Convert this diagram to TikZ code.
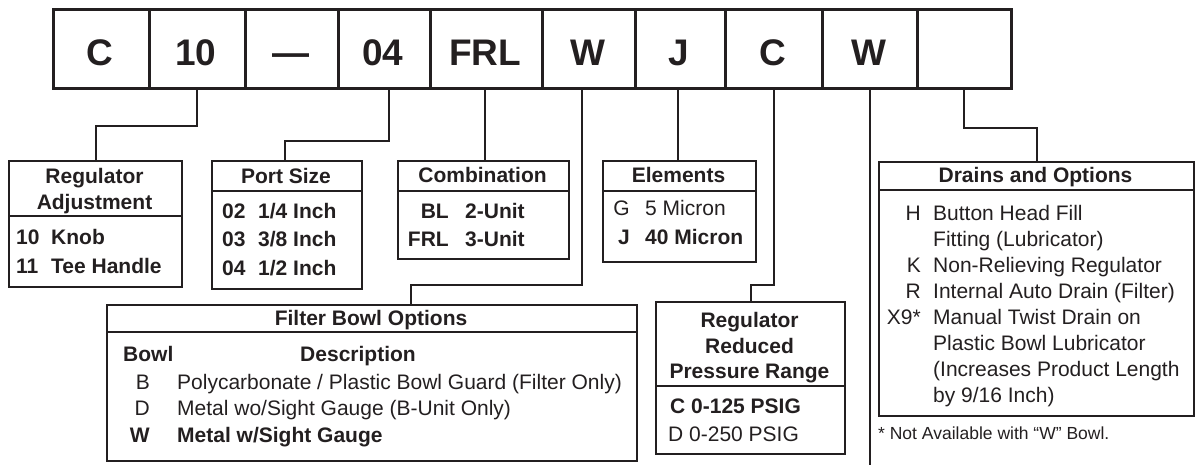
\documentclass[tikz,border=0pt]{standalone}
\usepackage{fontspec}
\setmainfont{Liberation Sans}
\definecolor{ink}{RGB}{35,31,32}
\begin{document}
\begin{tikzpicture}[x=1pt,y=-1pt,
  topbox/.style={draw=ink, line width=2.6pt, anchor=north west, inner sep=0pt, minimum height=79pt},
  box/.style={draw=ink, line width=2.3pt, anchor=north west, inner sep=0pt},
  big/.style={font=\fontsize{37}{40}\selectfont\bfseries, text=ink, anchor=base, inner sep=0pt},
  hd/.style={font=\fontsize{21}{24}\selectfont\bfseries, text=ink, anchor=base, inner sep=0pt},
  bl/.style={hd, anchor=base west},
  br/.style={hd, anchor=base east},
  tl/.style={font=\fontsize{21}{24}\selectfont, text=ink, anchor=base west, inner sep=0pt},
  tr/.style={tl, anchor=base east},
  fn/.style={font=\fontsize{17.5}{20}\selectfont, text=ink, anchor=base west, inner sep=0pt},
  conn/.style={draw=ink, line width=2pt},
  div/.style={draw=ink, line width=2.3pt}]
\useasboundingbox (0,0) rectangle (1200,465);

% ---------- top code boxes ----------
\node[topbox, minimum width=96pt]  (tC)   at (52,8)  {};
\node[topbox, minimum width=96pt]  (t10)  at (148,8) {};
\node[topbox, minimum width=93pt]  (tD)   at (244,8) {};
\node[topbox, minimum width=92pt]  (t04)  at (337,8) {};
\node[topbox, minimum width=112pt] (tFRL) at (429,8) {};
\node[topbox, minimum width=93pt]  (tW)   at (541,8) {};
\node[topbox, minimum width=90pt]  (tJ)   at (634,8) {};
\node[topbox, minimum width=97pt]  (tC2)  at (724,8) {};
\node[topbox, minimum width=95pt]  (tW2)  at (821,8) {};
\node[topbox, minimum width=94pt]  (tE)   at (916,8) {};

\node[big] (lC)   at (100,66)   {C};
\node[big] (l10)  at (196,66)   {10};
\node[big] (lD)   at (290.5,66) {—};
\node[big] (l04)  at (383,66)   {04};
\node[big] (lFRL) at (485,66)   {FRL};
\node[big] (lW)   at (587.5,66) {W};
\node[big] (lJ)   at (679,66)   {J};
\node[big] (lC2)  at (772.5,66) {C};
\node[big] (lW2)  at (868.5,66) {W};

% ---------- Regulator Adjustment ----------
\node[box, minimum width=173pt, minimum height=126pt] (ra) at (8,160) {};
\draw[div] (8,216) -- (181,216);
\node[hd] (raT1) at (94.5,183.5) {Regulator};
\node[hd] (raT2) at (94.5,209.5) {Adjustment};
\node[bl] (ra1a) at (16,244.5) {10};
\node[bl] (ra1b) at (51,244.5) {Knob};
\node[bl] (ra2a) at (16,273.5) {11};
\node[bl] (ra2b) at (51,273.5) {Tee Handle};

% ---------- Port Size ----------
\node[box, minimum width=150pt, minimum height=128pt] (ps) at (211,160) {};
\draw[div] (211,191) -- (361,191);
\node[hd] (psT) at (286,183.5) {Port Size};
\node[bl] (ps1a) at (222,218.5) {02};
\node[bl] (ps1b) at (258,218.5) {1/4 Inch};
\node[bl] (ps2a) at (222,246.5) {03};
\node[bl] (ps2b) at (258,246.5) {3/8 Inch};
\node[bl] (ps3a) at (222,275.5) {04};
\node[bl] (ps3b) at (258,275.5) {1/2 Inch};

% ---------- Combination ----------
\node[box, minimum width=171pt, minimum height=98pt] (cb) at (397,160) {};
\draw[div] (397,191) -- (568,191);
\node[hd] (cbT) at (482.5,182.5) {Combination};
\node[br] (cb1a) at (449,218.5) {BL};
\node[bl] (cb1b) at (465,218.5) {2-Unit};
\node[br] (cb2a) at (449,246.5) {FRL};
\node[bl] (cb2b) at (465,246.5) {3-Unit};

% ---------- Elements ----------
\node[box, minimum width=153pt, minimum height=101pt] (el) at (602,160) {};
\draw[div] (602,191) -- (755,191);
\node[hd] (elT) at (678.5,182.5) {Elements};
\node[tr] (el1a) at (630,215.5) {G};
\node[tl] (el1b) at (645,215.5) {5 Micron};
\node[br] (el2a) at (630,244.5) {J};
\node[bl] (el2b) at (645,244.5) {40 Micron};

% ---------- Filter Bowl Options ----------
\node[box, minimum width=530pt, minimum height=156pt] (fb) at (106,304) {};
\draw[div] (106,332) -- (636,332);
\node[hd] (fbT) at (371,325.5) {Filter Bowl Options};
\node[bl] (fbH1) at (123,361.5) {Bowl};
\node[hd] (fbH2) at (358,361.5) {Description};
\node[tr] (fb1a) at (150,389) {B};
\node[tl] (fb1b) at (177,389) {Polycarbonate / Plastic Bowl Guard (Filter Only)};
\node[tr] (fb2a) at (150,415.5) {D};
\node[tl] (fb2b) at (177,415.5) {Metal wo/Sight Gauge (B-Unit Only)};
\node[br] (fb3a) at (150,442.5) {W};
\node[bl] (fb3b) at (177,442.5) {Metal w/Sight Gauge};

% ---------- Regulator Reduced Pressure Range ----------
\node[box, minimum width=189pt, minimum height=152pt] (rp) at (655,301) {};
\draw[div] (655,386) -- (844,386);
\node[hd] (rpT1) at (749.5,327.5) {Regulator};
\node[hd] (rpT2) at (749.5,353) {Reduced};
\node[hd] (rpT3) at (749.5,378.5) {Pressure Range};
\node[bl] (rp1) at (670,413.5) {C 0-125 PSIG};
\node[tl] (rp2) at (668,441.5) {D 0-250 PSIG};

% ---------- Drains and Options ----------
\node[box, minimum width=315pt, minimum height=254pt] (dr) at (878,161) {};
\draw[div] (878,190) -- (1193,190);
\node[hd] (drT) at (1035.5,182.5) {Drains and Options};
\node[tr] (dr1a) at (921,220.5) {H};
\node[tl] (dr1b) at (933,220.5) {Button Head Fill};
\node[tl] (dr1c) at (933,246.5) {Fitting (Lubricator)};
\node[tr] (dr2a) at (921,272.5) {K};
\node[tl] (dr2b) at (933,272.5) {Non-Relieving Regulator};
\node[tr] (dr3a) at (921,298.5) {R};
\node[tl] (dr3b) at (933,298.5) {Internal Auto Drain (Filter)};
\node[tr] (dr4a) at (921,324.5) {X9*};
\node[tl] (dr4b) at (933,324.5) {Manual Twist Drain on};
\node[tl] (dr4c) at (933,350.5) {Plastic Bowl Lubricator};
\node[tl] (dr4d) at (933,376.5) {(Increases Product Length};
\node[tl] (dr4e) at (933,402.5) {by 9/16 Inch)};
\node[fn] (note) at (878,439.5) {* Not Available with “W” Bowl.};

% ---------- connectors ----------
\coordinate (wend) at (868.5,465);
\draw[conn] (t10.south) -- ++(0,36) -| (ra.north);
\draw[conn] ([xshift=5pt]t04.south) -- ++(0,51) -| ([xshift=-2pt]ps.north);
\draw[conn] ([xshift=-1pt]tFRL.south) -- ([xshift=-1pt]tFRL.south |- cb.north);
\draw[conn] ([xshift=-6.5pt]tW.south) -- ++(0,195) -| ([xshift=39pt]fb.north);
\draw[conn] ([xshift=-2pt]tJ.south) -- ([xshift=-2pt]tJ.south |- el.north);
\draw[conn] (tC2.south) -- ++(0,195) -| (rp.north);
\draw[conn] (tW2.south) -- (tW2.south |- wend);
\draw[conn] (tE.south) -- ++(0,38) -| (dr.north);
\end{tikzpicture}
\end{document}
